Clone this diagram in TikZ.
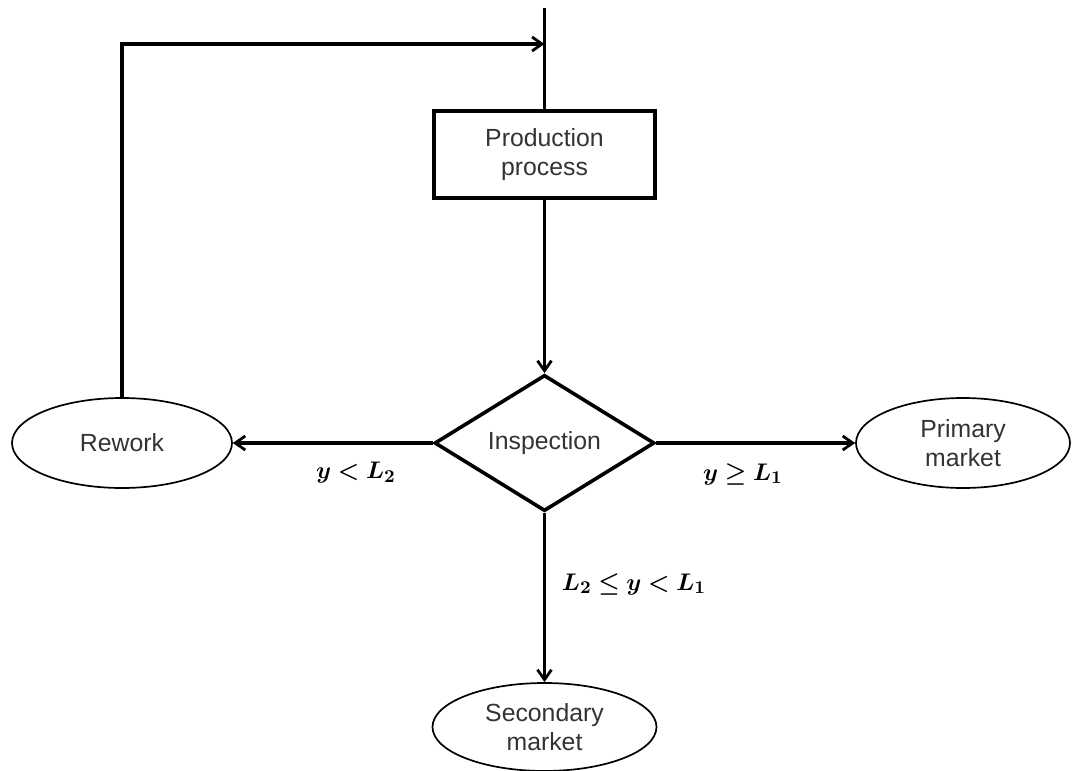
\documentclass[tikz,border=0pt]{standalone}
\usepackage{fontspec}
\setmainfont{Liberation Sans}
\usepackage{amsmath}
\usepackage{bm}
\usetikzlibrary{shapes.geometric,arrows.meta}
\begin{document}
\begin{tikzpicture}[x=0.5pt,y=-0.5pt,
  txt/.style={font=\fontsize{12.4pt}{14.5pt}\selectfont, text=black!80, align=center},
  procbox/.style={draw, line width=1.8pt, rectangle, minimum width=110.5pt, minimum height=43.5pt, inner sep=0pt, txt},
  decision/.style={draw, line width=1.8pt, diamond, minimum width=110pt, minimum height=44.5pt, inner sep=0pt, txt},
  term/.style={draw, line width=0.85pt, ellipse, minimum width=110pt, minimum height=45pt, inner sep=0pt, txt},
  conn/.style={line width=1.6pt, -{Straight Barb[length=5pt,width=7pt,line width=1.4pt]}},
  plain/.style={line width=1.6pt},
  lbl/.style={font=\fontsize{12.8pt}{14pt}\selectfont}
]
\useasboundingbox (0,0) rectangle (1073,771);
\coordinate (top) at (544.5,8);
\node[procbox] (prod) at (544.5,154.5) {Production\\process};
\node[decision] (insp) at (544.5,443) {Inspection};
\node[term] (rework) at (122,443) {Rework};
\node[term, minimum width=107pt] (prim) at (963,443) {Primary\\market};
\node[term, minimum width=112pt, minimum height=44pt] (sec) at (544.5,727) {Secondary\\market};
\coordinate (join) at (544.5,44);
\coordinate (corner) at (122,44);

\draw[plain] (top) -- (prod.north);
\draw[conn] (rework.north) -- (corner) -- (join);
\draw[conn] (prod.south) -- (insp.north);
\draw[conn] (insp.west) -- (rework.east);
\draw[conn] (insp.east) -- (prim.west);
\draw[conn] (insp.south) -- (sec.north);

\node[lbl] (l2) at (356,473) {$\bm{y < L_2}$};
\node[lbl] (l1) at (743,474) {$\bm{y \geq L_1}$};
\node[lbl] (l21) at (634,584) {$\bm{L_2 \leq y < L_1}$};
\end{tikzpicture}
\end{document}
